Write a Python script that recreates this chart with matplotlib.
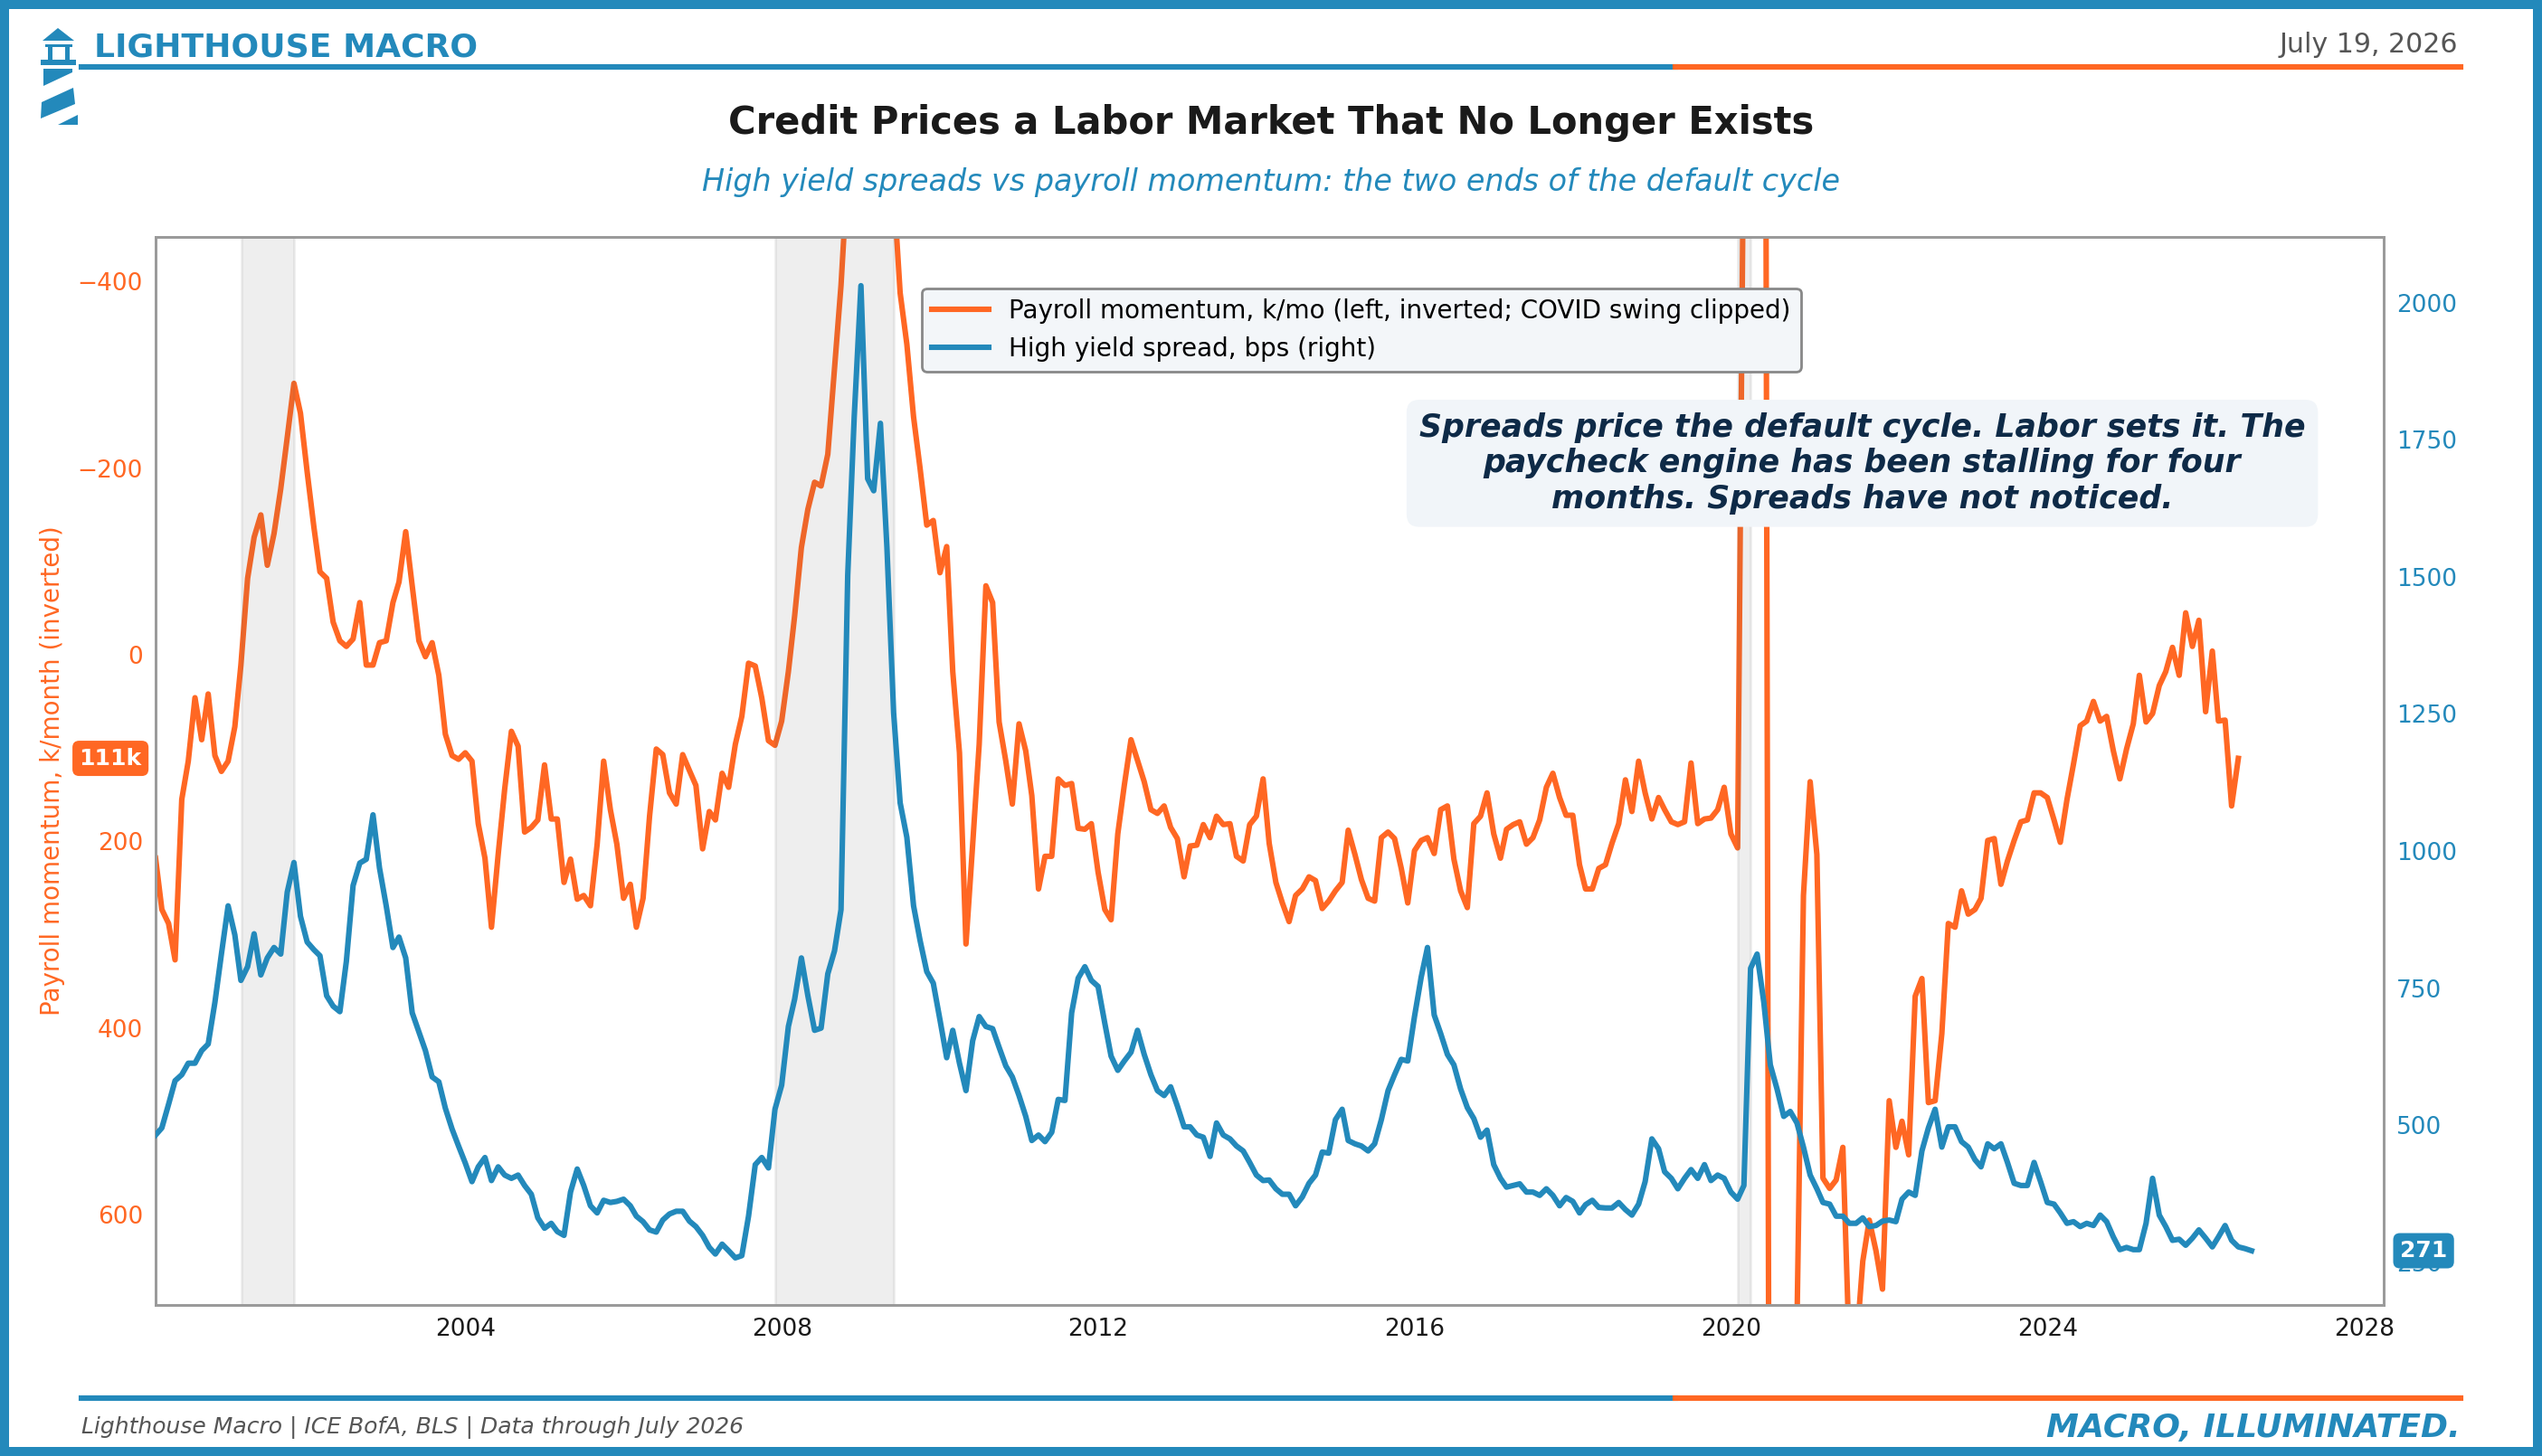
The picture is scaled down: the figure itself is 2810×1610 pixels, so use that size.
import matplotlib
matplotlib.use('Agg')
import matplotlib.pyplot as plt
import matplotlib.dates as mdates
from matplotlib.lines import Line2D
from matplotlib.patches import Polygon, Rectangle
from matplotlib.ticker import MultipleLocator
import pandas as pd

OCEAN = '#2389BB'
DUSK = '#FF6723'
NAVY = '#0E2A47'

# Payroll momentum, k/month, monthly from Jan 2000 (COVID swing clipped)
payroll_k = [
    218, 273, 288, 327, 155, 114, 46, 91, 42, 108, 125, 114,
    77, 11, -82, -126, -150, -96, -130, -178, -233, -291, -259, -196,
    -137, -89, -82, -35, -15, -9, -17, -56, 11, 11, -13, -15,
    -56, -78, -132, -74, -15, 2, -13, 22, 85, 108, 112, 105,
    114, 181, 218, 292, 214, 144, 82, 98, 190, 185, 177, 118,
    176, 176, 244, 219, 262, 258, 269, 203, 114, 166, 203, 261,
    246, 292, 261, 173, 101, 107, 148, 160, 107, 124, 140, 208,
    168, 177, 127, 142, 96, 66, 9, 12, 46, 92, 97, 71,
    18, -42, -115, -156, -185, -181, -215, -307, -396, -520, -640, -700,
    -720, -730, -690, -600, -500, -388, -333, -255, -200, -139, -144, -88,
    -116, 18, 105, 310, 203, 96, -74, -56, 72, 114, 160, 74,
    103, 151, 251, 216, 216, 133, 140, 138, 186, 187, 181, 233,
    273, 284, 192, 140, 91, 113, 136, 166, 170, 162, 185, 197,
    238, 205, 204, 182, 196, 173, 182, 181, 216, 221, 182, 173,
    133, 202, 244, 266, 286, 258, 251, 238, 242, 272, 264, 253,
    244, 188, 214, 241, 261, 264, 196, 190, 197, 229, 266, 210,
    199, 196, 213, 166, 162, 219, 253, 271, 181, 173, 148, 192,
    218, 187, 182, 179, 203, 196, 177, 142, 127, 153, 172, 172,
    225, 251, 251, 229, 225, 202, 181, 134, 168, 114, 148, 176,
    153, 166, 179, 182, 179, 116, 181, 176, 175, 166, 142, 192,
    207, -600, -1500, -1500, -1500, 1500, 1500, 1300, 950, 720, 258, 136,
    214, 561, 572, 563, 528, 750, 745, 650, 606, 639, 680, 478,
    528, 500, 536, 366, 347, 480, 478, 406, 288, 292, 253, 278,
    273, 261, 199, 197, 246, 221, 199, 179, 177, 148, 148, 153,
    177, 201, 155, 117, 76, 71, 50, 71, 66, 103, 133, 101,
    74, 22, 72, 63, 33, 18, -8, 22, -45, -9, -37, 61,
    -4, 71, 70, 162, 111,
]

# ICE BofA high yield spread, bps, monthly from Jan 2000
hy_spread_bps = [
    482, 495, 538, 581, 592, 613, 613, 636, 648, 724, 812, 900,
    847, 764, 789, 849, 774, 805, 824, 812, 925, 979, 881, 834,
    820, 809, 736, 717, 707, 799, 937, 978, 985, 1066, 969, 900,
    824, 843, 805, 705, 670, 636, 588, 579, 531, 493, 462, 431,
    397, 424, 441, 399, 424, 409, 403, 409, 390, 374, 331, 312,
    321, 306, 299, 378, 420, 390, 353, 340, 363, 359, 361, 365,
    353, 334, 324, 309, 305, 327, 338, 343, 343, 325, 315, 299,
    277, 265, 283, 271, 258, 262, 334, 428, 441, 422, 529, 573,
    680, 730, 805, 736, 673, 677, 776, 818, 893, 1503, 1792, 2031,
    1679, 1657, 1780, 1554, 1252, 1088, 1025, 900, 837, 780, 759, 692,
    623, 673, 613, 563, 654, 698, 680, 676, 642, 608, 588, 554,
    516, 472, 482, 470, 487, 547, 545, 705, 768, 789, 764, 753,
    686, 626, 600, 617, 633, 673, 629, 592, 563, 554, 570, 535,
    497, 497, 482, 478, 443, 504, 482, 475, 462, 453, 432, 409,
    399, 400, 384, 374, 374, 353, 369, 394, 409, 451, 449, 510,
    529, 472, 466, 462, 453, 466, 510, 563, 592, 620, 617, 698,
    770, 824, 701, 667, 629, 610, 566, 532, 512, 478, 491, 428,
    403, 387, 390, 393, 378, 378, 372, 384, 372, 353, 368, 361,
    340, 355, 363, 350, 349, 349, 359, 346, 336, 356, 397, 475,
    457, 415, 403, 384, 403, 419, 403, 428, 399, 409, 403, 378,
    365, 390, 786, 812, 724, 610, 566, 516, 525, 504, 460, 409,
    384, 359, 356, 334, 334, 321, 321, 331, 315, 317, 325, 327,
    324, 365, 378, 372, 453, 495, 529, 460, 497, 497, 470, 460,
    437, 424, 466, 457, 466, 432, 394, 390, 390, 432, 397, 359,
    356, 340, 321, 324, 315, 321, 317, 336, 324, 296, 273, 277,
    273, 273, 321, 403, 336, 315, 290, 292, 281, 294, 309, 294,
    278, 296, 317, 290, 278, 275, 271,
]

recession_starts = ['2001-03-01', '2007-12-01', '2020-02-01']
recession_ends = ['2001-11-01', '2009-06-01', '2020-04-01']

payroll_dates = pd.date_range('2000-01-31', periods=len(payroll_k), freq='ME')
hy_dates = pd.date_range('2000-01-31', periods=len(hy_spread_bps), freq='ME')

W, H = 2810, 1610
fig = plt.figure(figsize=(W / 200, H / 200), dpi=200)


def px(x, y):
    # pixel position (from top-left) to figure fraction
    return (x / W, 1 - y / H)


# Axes
ax1 = fig.add_axes([0.0612, 0.1037, 0.8765, 0.7336])
ax2 = ax1.twinx()

ax1.plot(payroll_dates, payroll_k, color=DUSK, lw=2.2,
         label='Payroll momentum, k/mo (left, inverted; COVID swing clipped)')

for s, e in zip(recession_starts, recession_ends):
    ax2.axvspan(pd.Timestamp(s), pd.Timestamp(e), color='#5f5f5f', alpha=0.1, lw=1.0, zorder=1)

ax2.plot(hy_dates, hy_spread_bps, color=OCEAN, lw=2.2, zorder=3,
         label='High yield spread, bps (right)')

ax1.set_xlim(pd.Timestamp('2000-01-31'), pd.Timestamp('2028-04-01'))
ax1.set_ylim(697, -448)
ax2.set_ylim(172, 2120)

ax1.xaxis.set_major_locator(mdates.YearLocator(4))
ax1.xaxis.set_major_formatter(mdates.DateFormatter('%Y'))
ax1.yaxis.set_major_locator(MultipleLocator(200))
ax2.yaxis.set_major_locator(MultipleLocator(250))

ax1.tick_params(axis='x', length=0, pad=5, labelsize=9.5, labelcolor='#1a1a1a')
ax1.tick_params(axis='y', length=0, pad=5, labelsize=9.5, labelcolor=DUSK)
ax2.tick_params(axis='y', length=0, pad=5, labelsize=9.5, labelcolor=OCEAN)

for ax in (ax1, ax2):
    for sp in ax.spines.values():
        sp.set_color('#9a9a9a')
        sp.set_linewidth(1.0)

ax1.set_ylabel('Payroll momentum, k/month (inverted)', color=DUSK, fontsize=10)
ax1.yaxis.set_label_coords(-0.0405, 0.5)

# Legend
handles = ax1.get_lines() + [ax2.get_lines()[0]]
leg = ax2.legend(handles, [h.get_label() for h in handles], loc='upper left',
                 bbox_to_anchor=(0.344, 0.952), borderaxespad=0, fontsize=10,
                 handlelength=2.25, frameon=True, facecolor='#F3F6F9',
                 edgecolor='#888888', framealpha=1)
leg.set_zorder(8)

# Callout
ax2.text(0.766, 0.788,
         'Spreads price the default cycle. Labor sets it. The\n'
         'paycheck engine has been stalling for four\n'
         'months. Spreads have not noticed.',
         transform=ax2.transAxes, ha='center', va='center', fontsize=12.5,
         fontweight='bold', style='italic', color=NAVY, zorder=7,
         bbox=dict(boxstyle='round,pad=0.4', facecolor='#F1F5F9', edgecolor='none'))

# Last-value tags
ax1.annotate(f'{payroll_k[-1]}k', xy=(0, payroll_k[-1]), xycoords=ax1.get_yaxis_transform(),
             xytext=(-5.5, 0), textcoords='offset points', ha='right', va='center',
             fontsize=9, fontweight='bold', color='white', annotation_clip=False,
             bbox=dict(boxstyle='round,pad=0.3', facecolor=DUSK, edgecolor='none'))
ax2.annotate(f'{hy_spread_bps[-1]}', xy=(1, hy_spread_bps[-1]), xycoords=ax2.get_yaxis_transform(),
             xytext=(6.5, 0), textcoords='offset points', ha='left', va='center',
             fontsize=9, fontweight='bold', color='white', annotation_clip=False, zorder=9,
             bbox=dict(boxstyle='round,pad=0.3', facecolor=OCEAN, edgecolor='none'))

# Header / footer
fig.text(0.5, 0.9155, 'Credit Prices a Labor Market That No Longer Exists',
         ha='center', va='center', fontsize=15, fontweight='bold', color='#1a1a1a')
fig.text(0.5, 0.875, 'High yield spreads vs payroll momentum: the two ends of the default cycle',
         ha='center', va='center', fontsize=12, style='italic', color=OCEAN)

fig.text(0.037, 0.9677, 'LIGHTHOUSE MACRO', ha='left', va='center',
         fontsize=13, fontweight='bold', color=OCEAN)
fig.text(0.967, 0.969, 'July 19, 2026', ha='right', va='center', fontsize=10.8, color='#555555')

for yy in (0.9543, 0.0398):
    fig.add_artist(Line2D([0.032, 0.659], [yy, yy], color=OCEAN, lw=2.2, transform=fig.transFigure))
    fig.add_artist(Line2D([0.659, 0.968], [yy, yy], color=DUSK, lw=2.2, transform=fig.transFigure))

fig.text(0.032, 0.0193, 'Lighthouse Macro | ICE BofA, BLS | Data through July 2026',
         ha='left', va='center', fontsize=9, style='italic', color='#555555')
fig.text(0.968, 0.0193, 'MACRO, ILLUMINATED.', ha='right', va='center',
         fontsize=13, fontweight='bold', style='italic', color=OCEAN)

# Lighthouse mark
logo = [
    [(47, 45), (64, 31), (82, 45)],
    [(50, 49), (80, 49), (80, 52), (50, 52)],
    [(53, 52), (58, 52), (58, 67), (53, 67)],
    [(72, 52), (77, 52), (77, 67), (72, 67)],
    [(45, 66), (84, 66), (84, 72), (45, 72)],
    [(48, 76), (80, 76), (80, 80), (48, 95)],
    [(46, 113), (81, 97), (83, 115), (45, 131)],
    [(64, 138), (86, 127), (86, 138)],
]
for shape in logo:
    fig.add_artist(Polygon([px(x, y) for x, y in shape], closed=True,
                           transform=fig.transFigure, facecolor=OCEAN, edgecolor='none'))

# Outer frame
fig.add_artist(Rectangle((0, 0), 1, 1, transform=fig.transFigure, fill=False,
                         edgecolor=OCEAN, lw=7.2, clip_on=False))

fig.savefig('out.png', dpi=200, facecolor='white')
